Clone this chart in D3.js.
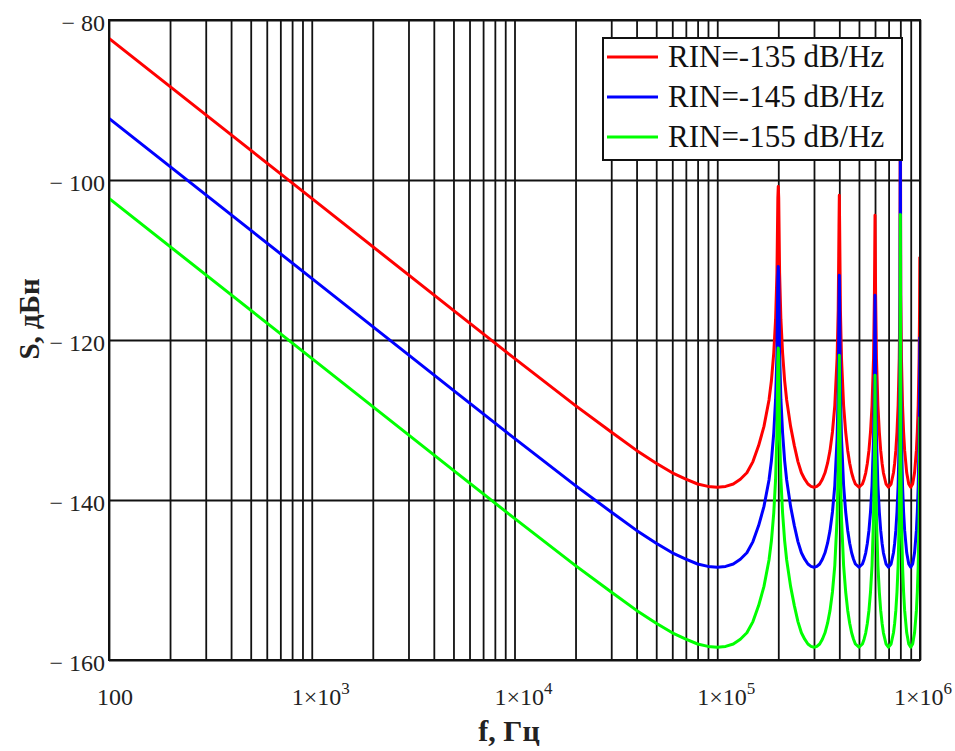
<!DOCTYPE html>
<html>
<head>
<meta charset="utf-8">
<script src="https://cdn.jsdelivr.net/npm/d3@7"></script>
<style>
  body { margin: 0; background: #fff; }
  svg { display: block; }
</style>
</head>
<body>
<div id="chart"></div>
<script>
// frequency points, Hz
const freq = [
  100, 1e3, 5e3, 1e4, 2e4, 3e4, 4e4, 5e4, 6e4, 7e4, 8e4, 9e4, 1e5,
  1.1e5, 1.2e5, 1.3e5, 1.4e5, 1.5e5, 1.6e5, 1.7e5, 1.8e5, 1.85e5, 1.9e5, 1.94e5, 1.97e5, 1.99e5,
  2e5,
  2.01e5, 2.03e5, 2.06e5, 2.1e5, 2.15e5, 2.2e5, 2.3e5, 2.4e5, 2.5e5, 2.6e5, 2.7e5, 2.8e5, 2.9e5, 3e5,
  3.1e5, 3.2e5, 3.3e5, 3.4e5, 3.5e5, 3.6e5, 3.7e5, 3.8e5, 3.9e5, 3.95e5, 3.985e5,
  4e5,
  4.015e5, 4.05e5, 4.1e5, 4.2e5, 4.3e5, 4.4e5, 4.5e5, 4.6e5, 4.7e5, 4.8e5, 5e5,
  5.2e5, 5.3e5, 5.4e5, 5.5e5, 5.6e5, 5.7e5, 5.8e5, 5.9e5, 5.96e5,
  6e5,
  6.04e5, 6.1e5, 6.2e5, 6.3e5, 6.4e5, 6.5e5, 6.6e5, 6.8e5, 7e5,
  7.2e5, 7.4e5, 7.5e5, 7.6e5, 7.7e5, 7.8e5, 7.9e5, 7.96e5,
  8e5,
  8.04e5, 8.1e5, 8.2e5, 8.3e5, 8.4e5, 8.6e5, 8.8e5, 9e5,
  9.2e5, 9.4e5, 9.6e5, 9.7e5, 9.8e5, 9.9e5, 9.95e5, 9.98e5
]

// S, dB for each RIN value
const rin135 = [
  -82.3, -102.3, -116.3, -122.3, -128.2, -131.5, -133.8, -135.4, -136.6, -137.4, -138.0, -138.3, -138.4,
  -138.3, -138.0, -137.4, -136.6, -135.2, -133.2, -130.8, -127.5, -125.1, -121.6, -117.4, -111.6, -102.3,
  -100.8,
  -102.3, -111.6, -117.4, -121.6, -125.1, -127.5, -130.8, -133.2, -135.2, -136.6, -137.4, -138.0, -138.3, -138.4,
  -138.3, -138.0, -137.4, -136.6, -135.4, -133.8, -131.5, -128.2, -122.3, -116.3, -105.8,
  -101.9,
  -105.8, -116.3, -122.3, -128.2, -131.5, -133.8, -135.4, -136.6, -137.4, -138.0, -138.4,
  -138.0, -137.4, -136.6, -135.4, -133.8, -131.5, -128.2, -122.3, -114.4,
  -104.4,
  -114.4, -122.3, -128.2, -131.5, -133.8, -135.4, -136.6, -138.0, -138.4,
  -138.0, -136.6, -135.4, -133.8, -131.5, -128.2, -122.3, -114.4,
  -84.3,
  -114.4, -122.3, -128.2, -131.5, -133.8, -136.6, -138.0, -138.4,
  -138.0, -136.6, -133.8, -131.5, -128.2, -122.3, -116.3, -109.6
]

const rin145 = [
  -92.3, -112.3, -126.3, -132.3, -138.2, -141.5, -143.8, -145.4, -146.6, -147.4, -148.0, -148.3, -148.4,
  -148.3, -148.0, -147.4, -146.6, -145.2, -143.2, -140.8, -137.5, -135.1, -131.6, -127.4, -121.6, -112.3,
  -110.8,
  -112.3, -121.6, -127.4, -131.6, -135.1, -137.5, -140.8, -143.2, -145.2, -146.6, -147.4, -148.0, -148.3, -148.4,
  -148.3, -148.0, -147.4, -146.6, -145.4, -143.8, -141.5, -138.2, -132.3, -126.3, -115.8,
  -111.9,
  -115.8, -126.3, -132.3, -138.2, -141.5, -143.8, -145.4, -146.6, -147.4, -148.0, -148.4,
  -148.0, -147.4, -146.6, -145.4, -143.8, -141.5, -138.2, -132.3, -124.4,
  -114.4,
  -124.4, -132.3, -138.2, -141.5, -143.8, -145.4, -146.6, -148.0, -148.4,
  -148.0, -146.6, -145.4, -143.8, -141.5, -138.2, -132.3, -124.4,
  -94.3,
  -124.4, -132.3, -138.2, -141.5, -143.8, -146.6, -148.0, -148.4,
  -148.0, -146.6, -143.8, -141.5, -138.2, -132.3, -126.3, -119.6
]

const rin155 = [
  -102.3, -122.3, -136.3, -142.3, -148.2, -151.5, -153.8, -155.4, -156.6, -157.4, -158.0, -158.3, -158.4,
  -158.3, -158.0, -157.4, -156.6, -155.2, -153.2, -150.8, -147.5, -145.1, -141.6, -137.4, -131.6, -122.3,
  -121.0,
  -122.3, -131.6, -137.4, -141.6, -145.1, -147.5, -150.8, -153.2, -155.2, -156.6, -157.4, -158.0, -158.3, -158.4,
  -158.3, -158.0, -157.4, -156.6, -155.4, -153.8, -151.5, -148.2, -142.3, -136.3, -125.8,
  -121.9,
  -125.8, -136.3, -142.3, -148.2, -151.5, -153.8, -155.4, -156.6, -157.4, -158.0, -158.4,
  -158.0, -157.4, -156.6, -155.4, -153.8, -151.5, -148.2, -142.3, -134.4,
  -124.4,
  -134.4, -142.3, -148.2, -151.5, -153.8, -155.4, -156.6, -158.0, -158.4,
  -158.0, -156.6, -155.4, -153.8, -151.5, -148.2, -142.3, -134.4,
  -104.3,
  -134.4, -142.3, -148.2, -151.5, -153.8, -156.6, -158.0, -158.4,
  -158.0, -156.6, -153.8, -151.5, -148.2, -142.3, -136.3, -129.6
]

const seriesNames = ["RIN=-135 dB/Hz", "RIN=-145 dB/Hz", "RIN=-155 dB/Hz"]
const seriesColors = ["#ff0000", "#0000ff", "#00ff00"]

const yTicks = [-80, -100, -120, -140, -160]
const yTickLabels = ["\u2212 80", "\u2212 100", "\u2212 120", "\u2212 140", "\u2212 160"]
const xTicks = [1e2, 1e3, 1e4, 1e5, 1e6]
const xTickBase = ["100", "1\u00d710", "1\u00d710", "1\u00d710", "1\u00d710"]
const xTickExp = ["", "3", "4", "5", "6"]

const W = 955, H = 751
const margin = { top: 20, right: 35, bottom: 91, left: 109 }
const width = W - margin.left - margin.right   // 811
const height = H - margin.top - margin.bottom  // 640

const svg = d3.select("#chart").append("svg")
  .attr("width", W)
  .attr("height", H)
  .style("font-family", "'Liberation Serif', 'Times New Roman', serif")

const g = svg.append("g")
  .attr("transform", "translate(" + margin.left + "," + margin.top + ")")

const x = d3.scaleLog().domain([1e2, 1e6]).range([0, width])
const y = d3.scaleLinear().domain([-160, -80]).range([height, 0])

// grid: every 1..9 x decade vertically, every 20 dB horizontally
g.append("g")
  .attr("class", "xgrid")
  .attr("transform", "translate(0," + height + ")")
  .call(d3.axisBottom(x).tickValues(x.ticks()).tickSize(-height).tickFormat(""))
  .call(a => a.select(".domain").remove())
  .selectAll("line")
    .attr("stroke", "#111")
    .attr("stroke-width", 1.8)

g.append("g")
  .attr("class", "ygrid")
  .call(d3.axisLeft(y).tickValues(yTicks).tickSize(-width).tickFormat(""))
  .call(a => a.select(".domain").remove())
  .selectAll("line")
    .attr("stroke", "#111")
    .attr("stroke-width", 1.8)

// curves
const series = [rin135, rin145, rin155]
const line = d3.line()
  .x((d, i) => x(freq[i]))
  .y(d => y(d))

g.append("clipPath").attr("id", "clip")
  .append("rect").attr("width", width).attr("height", height)

g.append("g").attr("clip-path", "url(#clip)")
  .selectAll("path")
  .data(series)
  .enter()
  .append("path")
    .attr("d", line)
    .attr("fill", "none")
    .attr("stroke", (d, i) => seriesColors[i])
    .attr("stroke-width", 3)
    .attr("stroke-linejoin", "round")

// frame
g.append("rect")
  .attr("width", width)
  .attr("height", height)
  .attr("fill", "none")
  .attr("stroke", "#111")
  .attr("stroke-width", 2)

// y tick labels
g.selectAll(".ylab")
  .data(yTicks)
  .enter()
  .append("text")
    .attr("class", "ylab")
    .attr("x", -4)
    .attr("y", d => y(d) + 11)
    .attr("text-anchor", "end")
    .style("font-size", "24px")
    .attr("fill", "#222")
    .text((d, i) => yTickLabels[i])

// x tick labels with superscripts (last one pulled in to stay inside the page)
const xl = g.selectAll(".xlab")
  .data(xTicks)
  .enter()
  .append("text")
    .attr("class", "xlab")
    .attr("x", (d, i) => x(d) + (i === 0 ? 6 : i === xTicks.length - 1 ? 3 : 9))
    .attr("y", height + 45)
    .attr("text-anchor", "middle")
    .style("font-size", "24px")
    .attr("fill", "#222")
xl.append("tspan").text((d, i) => xTickBase[i])
xl.append("tspan")
  .attr("dy", -11)
  .style("font-size", "17px")
  .text((d, i) => xTickExp[i])

// axis titles
svg.append("text")
  .attr("x", 509)
  .attr("y", 741)
  .attr("text-anchor", "middle")
  .style("font-size", "30px")
  .style("font-weight", "bold")
  .attr("fill", "#222")
  .text("f, Гц")

svg.append("text")
  .attr("transform", "translate(39,319) rotate(-90)")
  .attr("text-anchor", "middle")
  .style("font-size", "29px")
  .style("font-weight", "bold")
  .attr("fill", "#222")
  .text("S, дБн")

// legend
const lg = svg.append("g").attr("transform", "translate(603,38)")
lg.append("rect")
  .attr("width", 299)
  .attr("height", 122)
  .attr("fill", "#fff")
  .attr("stroke", "#111")
  .attr("stroke-width", 2)

const items = lg.selectAll(".item")
  .data(seriesNames)
  .enter()
  .append("g")
    .attr("transform", (d, i) => "translate(0," + (19 + i * 40) + ")")
items.append("line")
  .attr("x1", 4).attr("x2", 55)
  .attr("stroke", (d, i) => seriesColors[i])
  .attr("stroke-width", 3)
items.append("text")
  .attr("x", 65)
  .attr("y", 10)
  .style("font-size", "31px")
  .attr("fill", "#111")
  .text(d => d)
</script>
</body>
</html>
